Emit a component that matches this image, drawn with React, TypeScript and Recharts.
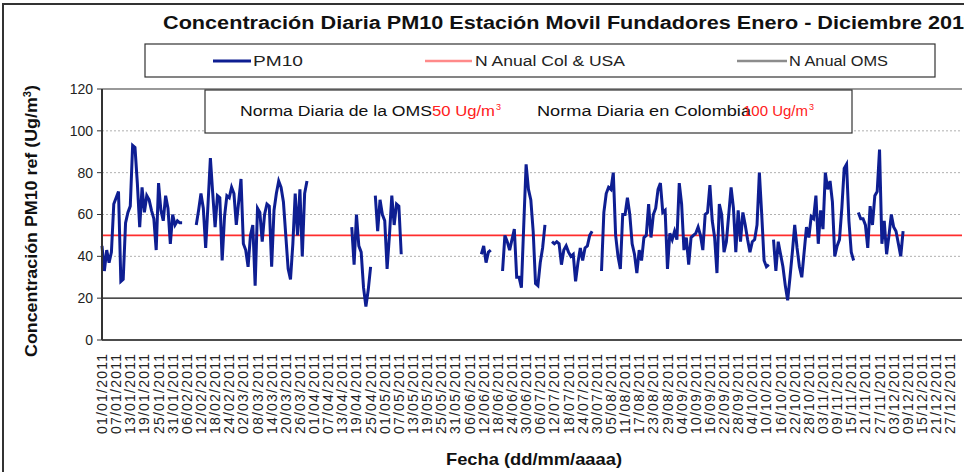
import { LineChart, Line, XAxis, YAxis, ReferenceLine } from "recharts";

// PM10 diario (Ug/m3), un arreglo por mes; null = sin dato
const ENE = [45, 33, 43, 37, 42, 65, 68, 71, 28, 29, 56, 61, 64, 93, 92, 75, 54, 73, 61, 69, 67, 62, 58, 43, 75, 62, 57, 69, 63, 46, 60];
const FEB = [55, 57, 56, 56, null, null, null, null, null, 55, 62, 70, 63, 44, 65, 87, 70, 54, 69, 68, 38, 59, 69, 68, 73, 70, 55, 66];
const MAR = [77, 46, 43, 35, 50, 55, 26, 63, 61, 47, 60, 65, 64, 35, 62, 70, 76, 73, 66, 50, 34, 29, 46, 70, 50, 72, 40, 70, 76, null, null];
const ABR = [null, null, null, null, null, null, null, null, null, null, null, null, null, null, null, null, 54, 36, 60, 45, 42, 25, 16, 24, 35, null, 69, 52, 67, 60];
const MAY = [57, 34, 50, 69, 55, 65, 64, 41, null, null, null, null, null, null, null, null, null, null, null, null, null, null, null, null, null, null, null, null, null, null, null];
const JUN = [null, null, null, null, null, null, null, null, null, null, 41, 45, 37, 42, 43, null, null, null, null, 33, 50, 47, 43, 48, 53, 30, 30, 25, 55, 84];
const JUL = [72, 67, 52, 27, 26, 37, 44, 55, null, null, 47, 46, 47, 46, 36, 43, 45, 42, 40, 41, 28, 37, 44, 38, 44, 45, 50, 52, null, null, null];
const AGO = [33, 61, 70, 73, 72, 80, 50, 40, 34, 60, 60, 68, 60, 46, 41, 32, 43, 38, 49, 50, 65, 49, 60, 63, 72, 75, 61, 62, 34, 51, 48];
const SEP = [52, 48, 75, 65, 43, 49, 36, 49, 50, 51, 54, 50, 43, 60, 61, 74, 57, 49, 32, 65, 60, 42, 47, 60, 73, 63, 42, 62, 47, 61];
const OCT = [55, 48, 42, 47, 48, 55, 80, 60, 38, 35, 36, null, 48, 33, 47, 41, 35, 26, 19, 30, 42, 55, 44, 35, 30, 42, 54, 49, 59, 58, 69];
const NOV = [46, 62, 53, 80, 72, 76, 66, 40, 45, 48, 63, 82, 84, 57, 42, 38, null, 61, 58, 58, 55, 44, 64, 55, 69, 71, 91, 46, 57, 41];
const DIC = [50, 60, 54, 52, 46, 40, 52, null, null, null, null, null, null, null, null, null, null, null, null, null, null, null, null, null, null, null, null, null, null, null, null];

const NORMA_COL_USA = 50;
const NORMA_OMS = 20;
const Y_TICKS = [0, 20, 40, 60, 80, 100, 120];
const GRID_Y = [40, 60, 80, 100];

const TICK_LABELS = [
  "01/01/2011", "07/01/2011", "13/01/2011", "19/01/2011", "25/01/2011", "31/01/2011",
  "06/02/2011", "12/02/2011", "18/02/2011", "24/02/2011", "02/03/2011", "08/03/2011",
  "14/03/2011", "20/03/2011", "26/03/2011", "01/04/2011", "07/04/2011", "13/04/2011",
  "19/04/2011", "25/04/2011", "01/05/2011", "07/05/2011", "13/05/2011", "19/05/2011",
  "25/05/2011", "31/05/2011", "06/06/2011", "12/06/2011", "18/06/2011", "24/06/2011",
  "30/06/2011", "06/07/2011", "12/07/2011", "18/07/2011", "24/07/2011", "30/07/2011",
  "05/08/2011", "11/08/2011", "17/08/2011", "23/08/2011", "29/08/2011", "04/09/2011",
  "10/09/2011", "16/09/2011", "22/09/2011", "28/09/2011", "04/10/2011", "10/10/2011",
  "16/10/2011", "22/10/2011", "28/10/2011", "03/11/2011", "09/11/2011", "15/11/2011",
  "21/11/2011", "27/11/2011", "03/12/2011", "09/12/2011", "15/12/2011", "21/12/2011",
  "27/12/2011",
];
const TICK_STEP = 6;
const X_TICKS = TICK_LABELS.map((_, i) => i * TICK_STEP);

const PM10 = [ENE, FEB, MAR, ABR, MAY, JUN, JUL, AGO, SEP, OCT, NOV, DIC].flat();
const data = PM10.map((v, i) => ({ dia: i, pm10: v }));

const W = 964;
const H = 472;
const SANS = "'Liberation Sans', Arial, sans-serif";
const NARROW = "'Liberation Sans Narrow', 'Arial Narrow', 'Liberation Sans', Arial, sans-serif";

function FechaTick({ x, y, payload }: any) {
  const label = TICK_LABELS[Math.round(payload.value / TICK_STEP)];
  return (
    <text
      x={x}
      y={y}
      transform={`rotate(-90 ${x} ${y})`}
      textAnchor="end"
      dy="0.36em"
      fontSize={14}
      fill="#222"
      fontFamily={SANS}
      textLength={80}
      lengthAdjust="spacing"
    >
      {label}
    </text>
  );
}

export default function App() {
  return (
    <div
      style={{
        position: "absolute",
        left: 0,
        top: 0,
        width: W,
        height: H,
        overflow: "hidden",
        background: "#fff",
      }}
    >
      <LineChart width={W} height={H} data={data} margin={{ top: 89, right: 2, bottom: 32, left: 42 }}>
        <XAxis
          type="number"
          dataKey="dia"
          domain={[0, 365]}
          ticks={X_TICKS}
          interval={0}
          height={100}
          tick={<FechaTick />}
          tickLine={false}
          tickSize={0}
          tickMargin={14}
          axisLine={{ stroke: "#111", strokeWidth: 1.5 }}
        />
        <YAxis
          domain={[0, 120]}
          ticks={Y_TICKS}
          interval={0}
          width={60}
          tickSize={5}
          tickMargin={4}
          axisLine={{ stroke: "#333", strokeWidth: 2 }}
          tickLine={{ stroke: "#333" }}
          tick={{ fill: "#222", fontSize: 14, fontFamily: SANS }}
        />
        {GRID_Y.map((v) => (
          <ReferenceLine key={v} y={v} stroke="#b0b0b0" strokeDasharray="2 2" />
        ))}
        <ReferenceLine y={120} stroke="#777" strokeWidth={1.5} />
        <ReferenceLine y={NORMA_OMS} stroke="#111" strokeWidth={1.3} />
        <ReferenceLine y={NORMA_COL_USA} stroke="#ff2d2d" strokeWidth={1.6} />
        <Line
          type="linear"
          dataKey="pm10"
          stroke="#0e1e92"
          strokeWidth={3}
          dot={false}
          connectNulls={false}
          isAnimationActive={false}
        />
      </LineChart>

      <svg
        width={W}
        height={H}
        style={{ position: "absolute", left: 0, top: 0, pointerEvents: "none" }}
      >
        {/* marco */}
        <rect x={3} y={4} width={1000} height={500} fill="none" stroke="#333" strokeWidth={2} />

        {/* título */}
        <text
          x={163}
          y={29}
          fontSize={18}
          fontWeight="bold"
          fontFamily={NARROW}
          fill="#111"
          textLength={812}
          lengthAdjust="spacingAndGlyphs"
        >
          Concentración Diaria PM10 Estación Movil Fundadores Enero - Diciembre 2011
        </text>

        {/* leyenda */}
        <rect x={145} y={44} width={790} height={33} fill="#fff" stroke="#333" strokeWidth={1.2} />
        <line x1={213} y1={61} x2={251} y2={61} stroke="#0e1e92" strokeWidth={3} />
        <text x={253} y={66} fontSize={14} fontFamily={NARROW} fill="#222" textLength={50} lengthAdjust="spacingAndGlyphs">
          PM10
        </text>
        <line x1={425} y1={61} x2={472} y2={61} stroke="#ff8a8a" strokeWidth={2.5} />
        <text x={475} y={66} fontSize={14} fontFamily={NARROW} fill="#222" textLength={150} lengthAdjust="spacingAndGlyphs">
          N Anual Col &amp; USA
        </text>
        <line x1={737} y1={61} x2={787} y2={61} stroke="#8c8c8c" strokeWidth={2.5} />
        <text x={789} y={66} fontSize={14} fontFamily={NARROW} fill="#222" textLength={99} lengthAdjust="spacingAndGlyphs">
          N Anual OMS
        </text>

        {/* recuadro de normas diarias */}
        <rect x={205} y={90} width={647} height={43} fill="#fff" stroke="#333" strokeWidth={1.2} />
        <text x={240} y={116} fontSize={14} fontFamily={SANS} fill="#111" textLength={192} lengthAdjust="spacingAndGlyphs">
          Norma Diaria de la OMS
        </text>
        <text x={432} y={116} fontSize={14} fontFamily={SANS} fill="#ff2020" textLength={63} lengthAdjust="spacingAndGlyphs">
          50 Ug/m
        </text>
        <text x={496} y={110} fontSize={9} fontFamily={SANS} fill="#ff2020">
          3
        </text>
        <text x={537} y={116} fontSize={14} fontFamily={SANS} fill="#111" textLength={214} lengthAdjust="spacingAndGlyphs">
          Norma Diaria en Colombia
        </text>
        <text x={743} y={116} fontSize={14} fontFamily={SANS} fill="#ff2020" textLength={65} lengthAdjust="spacingAndGlyphs">
          100 Ug/m
        </text>
        <text x={809} y={110} fontSize={9} fontFamily={SANS} fill="#ff2020">
          3
        </text>

        {/* títulos de ejes */}
        <text
          transform="rotate(-90)"
          x={-221}
          y={37}
          textAnchor="middle"
          fontSize={16}
          fontWeight="bold"
          fontFamily={NARROW}
          fill="#111"
          textLength={272}
          lengthAdjust="spacingAndGlyphs"
        >
          Concentración PM10 ref (Ug/m<tspan dy={-6} fontSize={10}>3</tspan>
          <tspan dy={6}>)</tspan>
        </text>
        <text
          x={534}
          y={465}
          textAnchor="middle"
          fontSize={17}
          fontWeight="bold"
          fontFamily={NARROW}
          fill="#111"
          textLength={176}
          lengthAdjust="spacingAndGlyphs"
        >
          Fecha (dd/mm/aaaa)
        </text>
      </svg>
    </div>
  );
}
